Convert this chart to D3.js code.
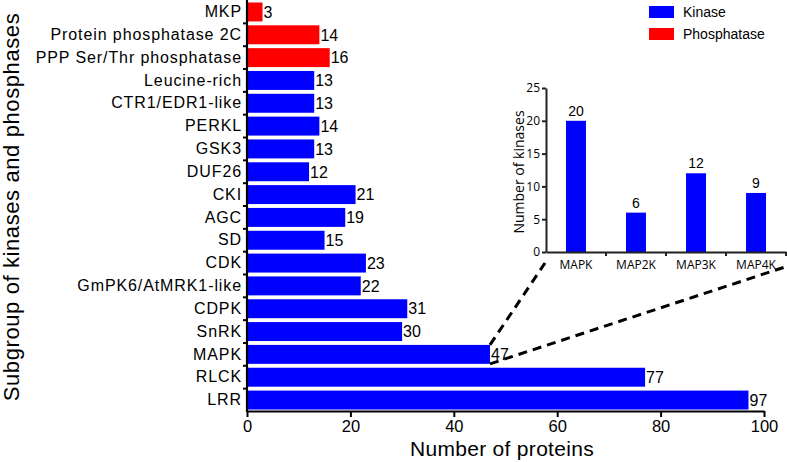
<!DOCTYPE html>
<html><head><meta charset="utf-8">
<script src="https://cdn.jsdelivr.net/npm/d3@7"></script>
<style>body{margin:0;background:#fff}svg{display:block}</style>
</head><body>
<svg id="c" width="787" height="462"></svg>
<script>
const categories = ["MKP","Protein phosphatase 2C","PPP Ser/Thr phosphatase","Leucine-rich","CTR1/EDR1-like","PERKL","GSK3","DUF26","CKI","AGC","SD","CDK","GmPK6/AtMRK1-like","CDPK","SnRK","MAPK","RLCK","LRR"];
const values = [3,14,16,13,13,14,13,12,21,19,15,23,22,31,30,47,77,97];
const types = ["Phosphatase","Phosphatase","Phosphatase","Kinase","Kinase","Kinase","Kinase","Kinase","Kinase","Kinase","Kinase","Kinase","Kinase","Kinase","Kinase","Kinase","Kinase","Kinase"];
const xTicks = [0,20,40,60,80,100];
const insetCats = ["MAPK","MAP2K","MAP3K","MAP4K"];
const insetVals = [20,6,12,9];
const insetTicks = [0,5,10,15,20,25];
const legendItems = ["Kinase","Phosphatase"];
const colors = {Kinase:"#0000ff", Phosphatase:"#ff0000"};

const svg = d3.select("#c");
const F = "'Liberation Sans', Arial, sans-serif";
const F2 = "'Open Sans', sans-serif";

const x = d3.scaleLinear().domain([0,100]).range([247,764]);
const y = d3.scaleBand().domain(categories).range([1,411]).paddingInner(0.17).paddingOuter(0.065);
const bw = y.bandwidth(), step = y.step();

// bars
svg.append("g").selectAll("rect").data(categories).join("rect")
  .attr("x", x(0)).attr("y", d=>y(d)).attr("height", bw)
  .attr("width", (d,i)=>x(values[i])-x(0))
  .attr("fill", (d,i)=>colors[types[i]]);

// value labels
svg.append("g").selectAll("text").data(categories).join("text")
  .attr("x",(d,i)=>x(values[i])+1).attr("y",d=>y(d)+bw/2).attr("dy","0.36em")
  .attr("font-family",F).attr("font-size",16).attr("fill","#000")
  .text((d,i)=>values[i]);

// x axis
const gx = svg.append("g").attr("transform",`translate(0,411)`)
  .call(d3.axisBottom(x).tickValues(xTicks).tickSize(6).tickSizeOuter(0).tickPadding(3));
gx.select(".domain").attr("stroke","#000").attr("stroke-width",2.2);
gx.selectAll(".tick line").attr("stroke","#000").attr("stroke-width",2);
gx.selectAll(".tick text").attr("font-family",F).attr("font-size",16.5).attr("fill","#000");

// y axis
const gy = svg.append("g").attr("transform",`translate(${x(0)},0)`)
  .call(d3.axisLeft(y).tickSize(0).tickPadding(5));
gy.select(".domain").remove();
gy.selectAll(".tick text").attr("font-family",F).attr("font-size",16).attr("letter-spacing","0.9px").attr("fill","#000");
svg.append("line").attr("x1",x(0)).attr("x2",x(0)).attr("y1",0).attr("y2",412).attr("stroke","#000").attr("stroke-width",2.2);
// boundary ticks
const bounds = categories.slice(1).map(c=>y(c)-(step-bw)/2);
svg.append("g").selectAll("line").data(bounds).join("line")
  .attr("x1",x(0)-4).attr("x2",x(0)).attr("y1",d=>d).attr("y2",d=>d)
  .attr("stroke","#000").attr("stroke-width",2);

// axis titles
svg.append("text").attr("x",502).attr("y",456).attr("text-anchor","middle")
  .attr("font-family",F).attr("font-size",21).attr("letter-spacing","0.3px").attr("fill","#000").text("Number of proteins");
svg.append("text").attr("transform","translate(19,207) rotate(-90)").attr("text-anchor","middle")
  .attr("font-family",F).attr("font-size",22).attr("letter-spacing","0.6px").attr("fill","#000").text("Subgroup of kinases and phosphases");

// legend
const lg = svg.append("g");
legendItems.forEach((k,i)=>{
  lg.append("rect").attr("x",649).attr("y",6+i*22).attr("width",25).attr("height",12).attr("fill",colors[k]);
  lg.append("text").attr("x",683).attr("y",12+i*22).attr("dy","0.36em")
    .attr("font-family",F).attr("font-size",14).attr("fill","#000").text(k);
});

// inset
const ix = d3.scaleBand().domain(insetCats).range([546,786]).paddingInner(0.667).paddingOuter(0.333);
const iy = d3.scaleLinear().domain([0,25]).range([252,88]);
const ib = svg.append("g");
ib.selectAll("rect").data(insetCats).join("rect")
  .attr("x",d=>ix(d)).attr("width",ix.bandwidth())
  .attr("y",(d,i)=>iy(insetVals[i])).attr("height",(d,i)=>iy(0)-iy(insetVals[i]))
  .attr("fill",colors.Kinase);
ib.selectAll("text.v").data(insetCats).join("text").attr("class","v")
  .attr("x",d=>ix(d)+ix.bandwidth()/2).attr("y",(d,i)=>iy(insetVals[i])-5)
  .attr("text-anchor","middle").attr("font-family",F).attr("font-size",14).attr("fill","#000")
  .text((d,i)=>insetVals[i]);
const igy = svg.append("g").attr("transform","translate(546,0)")
  .call(d3.axisLeft(iy).tickValues(insetTicks).tickSize(4).tickSizeOuter(0).tickPadding(2));
igy.select(".domain").attr("stroke","#222").attr("stroke-width",2);
igy.selectAll(".tick line").attr("stroke","#222").attr("stroke-width",2);
igy.selectAll(".tick text").attr("font-family",F2).attr("font-size",12).attr("fill","#000");
const igx = svg.append("g").attr("transform","translate(0,252)")
  .call(d3.axisBottom(ix).tickSize(0).tickPadding(8));
igx.select(".domain").attr("stroke","#222").attr("stroke-width",2);
igx.selectAll(".tick text").attr("font-family",F2).attr("font-size",12).attr("fill","#000");
const ibounds = insetCats.slice(1).map(c=>ix(c)-(ix.step()-ix.bandwidth())/2).concat([786]);
svg.append("g").selectAll("line").data(ibounds).join("line")
  .attr("x1",d=>d).attr("x2",d=>d).attr("y1",252).attr("y2",256)
  .attr("stroke","#222").attr("stroke-width",2);
svg.append("text").attr("transform","translate(524,172) rotate(-90)").attr("text-anchor","middle")
  .attr("font-family",F2).attr("font-size",14).attr("fill","#000").text("Number of kinases");

// zoom connector dashed lines
const mx = x(values[categories.indexOf("MAPK")]);
const myTop = y("MAPK"), myBot = y("MAPK")+bw;
const dl = svg.append("g").attr("stroke","#000").attr("stroke-width",3).attr("stroke-dasharray","9,6").attr("fill","none");
dl.append("line").attr("x1",mx).attr("y1",myTop).attr("x2",ix.range()[0]-1).attr("y2",iy(0)+11);
dl.append("line").attr("x1",mx).attr("y1",myBot).attr("x2",ix.range()[1]+2).attr("y2",iy(0)+14);
</script>
</body></html>
